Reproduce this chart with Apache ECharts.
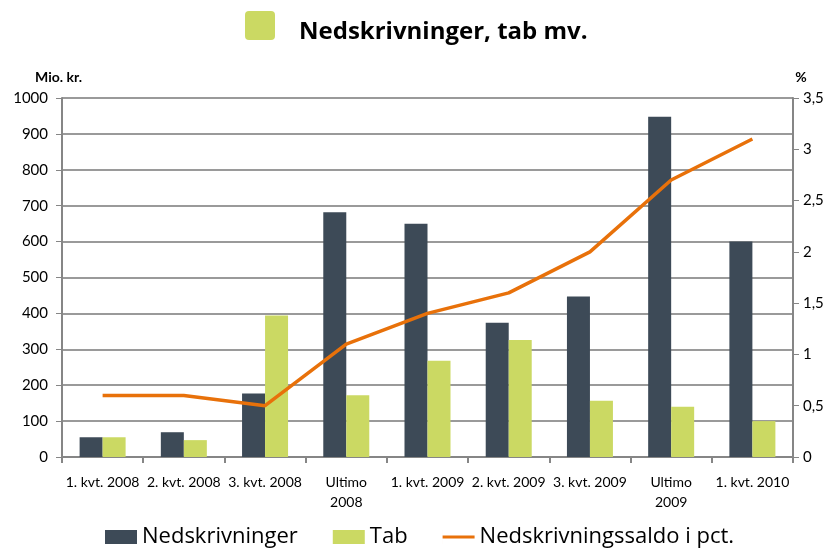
<!DOCTYPE html>
<html>
<head>
<meta charset="utf-8">
<script src="https://cdn.jsdelivr.net/npm/echarts@6/dist/echarts.min.js"></script>
<style>
  html, body { margin: 0; padding: 0; background: #fff; }
  #chart { width: 830px; height: 551px; }
</style>
</head>
<body>
<div id="chart"></div>
<script>
// kategorier og data
var categories = ['1. kvt. 2008', '2. kvt. 2008', '3. kvt. 2008', 'Ultimo\n2008',
                  '1. kvt. 2009', '2. kvt. 2009', '3. kvt. 2009', 'Ultimo\n2009', '1. kvt. 2010'];
var nedskrivninger = [55, 69, 177, 682, 650, 374, 447, 948, 600];
var tab = [55, 47, 394, 172, 268, 326, 157, 140, 100];
var saldoPct = [0.6, 0.6, 0.5, 1.1, 1.4, 1.6, 2.0, 2.7, 3.1];

var chart = echarts.init(document.getElementById('chart'));

var axisColor = '#868686';
var font = 'Lato, "Open Sans", sans-serif';

var option = {
    animation: false,
    title: [
        {
            // grøn firkant foran titlen
            text: '{box|}',
            left: 245,
            top: 11,
            padding: 0,
            textStyle: {
                rich: { box: { width: 30, height: 29, backgroundColor: '#cbd963', borderRadius: 4 } }
            }
        },
        {
            text: 'Nedskrivninger, tab mv.',
            left: 299,
            top: 20,
            padding: 0,
            textStyle: {
                fontFamily: '"Open Sans", Lato, sans-serif',
                fontSize: 24,
                fontWeight: 'bold',
                color: '#000'
            }
        }
    ],
    color: ['#3d4a57', '#cbd963', '#e8710a'],
    legend: {
        bottom: 3,
        left: 105,
        padding: 0,
        itemWidth: 32,
        itemHeight: 14,
        itemGap: 35,
        textStyle: { fontFamily: '"Open Sans", Lato, sans-serif', fontSize: 22, color: '#000' },
        data: [
            { name: 'Nedskrivninger', icon: 'rect' },
            { name: 'Tab', icon: 'rect' },
            {
                name: 'Nedskrivningssaldo i pct.',
                icon: 'path://M0,0 L0,14 L0.01,14 L0.01,0 Z M0,5.5 L32,5.5 L32,8.5 L0,8.5 Z',
                itemStyle: { borderWidth: 0 }
            }
        ]
    },
    grid: { left: 62, right: 37, top: 98, bottom: 94 },
    xAxis: {
        type: 'category',
        data: categories,
        axisLine: { lineStyle: { color: axisColor, width: 2 } },
        axisTick: { show: true, length: 6, lineStyle: { color: axisColor, width: 2 } },
        axisLabel: { fontFamily: font, fontSize: 14, color: '#000', margin: 15, interval: 0, lineHeight: 20 }
    },
    yAxis: [
        {
            type: 'value',
            min: 0, max: 1000, interval: 100,
            name: 'Mio. kr.',
            nameLocation: 'end',
            nameGap: 14,
            nameTextStyle: { fontFamily: font, fontSize: 14, fontWeight: 'bold', color: '#000', align: 'right', padding: [0, -20, 0, 0] },
            axisLine: { show: true, lineStyle: { color: axisColor, width: 2 } },
            axisTick: { show: true, length: 6, lineStyle: { color: axisColor } },
            axisLabel: {
                fontFamily: font, fontSize: 15, color: '#000', margin: 14,
                formatter: function (v) { return String(v); }
            },
            splitLine: { lineStyle: { color: '#9a9a9a', width: 2 } }
        },
        {
            type: 'value',
            min: 0, max: 3.5, interval: 0.5,
            name: '%',
            nameLocation: 'end',
            nameGap: 14,
            nameTextStyle: { fontFamily: font, fontSize: 14, fontWeight: 'bold', color: '#000', padding: [0, 0, 0, 16] },
            axisLine: { show: true, lineStyle: { color: axisColor, width: 2 } },
            axisTick: { show: true, length: 6, lineStyle: { color: axisColor } },
            axisLabel: {
                fontFamily: font, fontSize: 15, color: '#000', margin: 10,
                formatter: function (v) { return String(v).replace('.', ','); }
            },
            splitLine: { show: false }
        }
    ],
    series: [
        {
            name: 'Nedskrivninger',
            type: 'bar',
            data: nedskrivninger,
            barWidth: 23,
            barGap: '0%'
        },
        {
            name: 'Tab',
            type: 'bar',
            data: tab,
            barWidth: 23
        },
        {
            name: 'Nedskrivningssaldo i pct.',
            type: 'line',
            yAxisIndex: 1,
            data: saldoPct,
            symbol: 'none',
            lineStyle: { width: 3.5 }
        }
    ]
};

chart.setOption(option);
</script>
</body>
</html>
